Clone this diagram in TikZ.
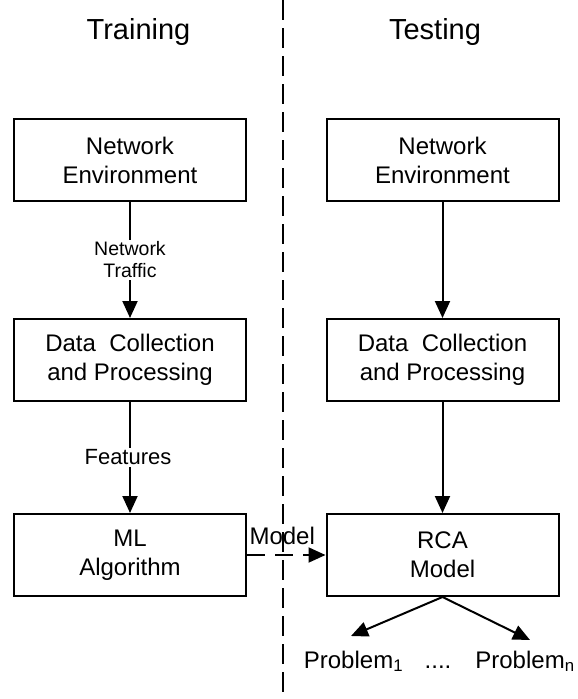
\documentclass[tikz,border=0pt]{standalone}
\usepackage{fontspec}
\setmainfont{Liberation Sans}
\usetikzlibrary{arrows.meta}

\begin{document}
\begin{tikzpicture}[x=1pt,y=-1pt,
  stage/.style={draw, line width=2pt, minimum width=232pt, minimum height=82pt,
    align=center, inner sep=0pt, font=\fontsize{24}{29}\selectfont},
  arr/.style={line width=2pt, -{Triangle[length=17pt,width=15pt]}},
  flowlabel/.style={fill=white, align=center, inner sep=2pt,
    font=\fontsize{19.5}{22}\selectfont},
  title/.style={anchor=base, font=\fontsize{29}{34}\selectfont},
  plain/.style={anchor=base, font=\fontsize{24}{29}\selectfont},
  divider/.style={line width=2pt, dash pattern=on 20pt off 8pt}
]
\useasboundingbox (0,0) rectangle (578,699);

% column titles
\node[title] (titleL) at (138.5,39) {Training};
\node[title] (titleR) at (435,39) {Testing};

% separator between the two phases
\coordinate (sepTop) at (283,0);
\coordinate (sepBot) at (283,699);
\draw[divider] (sepTop) -- (sepBot);

% training pipeline
\node[stage] (netL)  at (130,160) {Network\\Environment};
\node[stage] (dataL) at (130,360) {Data\ \ Collection\\and Processing};
\node[stage] (mlL)   at (130,555) {ML\\Algorithm};

% testing pipeline
\node[stage] (netR)  at (442.5,160) {Network\\Environment};
\node[stage] (dataR) at (442.5,360) {Data\ \ Collection\\and Processing};
\node[stage] (rca)   at (442.5,555) {RCA\\Model};

% training flow
\draw[arr] (netL) -- node[flowlabel] {Network\\Traffic} (dataL);
\draw[arr] (dataL) -- node[flowlabel, font=\fontsize{22}{26}\selectfont, xshift=-2pt] {Features} (mlL);

% testing flow
\draw[arr] (netR) -- (dataR);
\draw[arr] (dataR) -- (rca);

% trained model handed over to the testing side
\draw[arr, dash pattern=on 18pt off 10pt] (mlL) -- node[anchor=base, yshift=11pt, xshift=-4pt,
  font=\fontsize{24}{29}\selectfont, inner sep=0pt] (modelLbl) {Model} (rca);

% diagnosed problems
\coordinate (tip1) at (351,636);
\coordinate (tipN) at (530,640);
\draw[arr] (rca.south) -- (tip1);
\draw[arr] (rca.south) -- (tipN);
\node[plain] (p1)   at (353.5,668) {Problem\textsubscript{1}};
\node[plain] (dots) at (438,668) {....};
\node[plain] (pn)   at (525,668) {Problem\textsubscript{n}};
\end{tikzpicture}
\end{document}
